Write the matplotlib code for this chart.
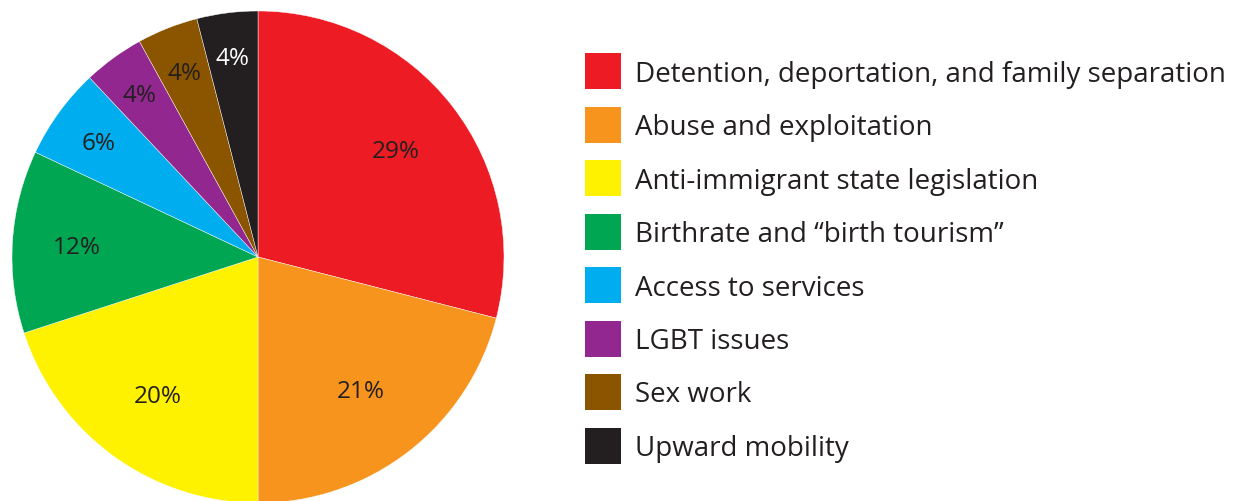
import numpy as np
import matplotlib.pyplot as plt
from matplotlib.patches import Rectangle

categories = [
    "Detention, deportation, and family separation",
    "Abuse and exploitation",
    "Anti-immigrant state legislation",
    "Birthrate and \u201cbirth tourism\u201d",
    "Access to services",
    "LGBT issues",
    "Sex work",
    "Upward mobility",
]
shares = [29, 21, 20, 12, 6, 4, 4, 4]
colors = ["#ED1C24", "#F7941D", "#FFF200", "#00A651", "#00AEEF", "#92278F", "#8B5500", "#231F20"]
label_colors = ["#231F20"] * 7 + ["white"]
label_radius = [0.71, 0.68, 0.69, 0.74, 0.80, 0.82, 0.81, 0.82]

plt.rcParams['font.family'] = ['Open Sans', 'DejaVu Sans']

W, H = 1245, 501
fig = plt.figure(figsize=(W / 100, H / 100), dpi=100)

# pie axes: center (258, 257) px, radius 246 px
cx, cy, r = 258, 257, 246
ax = fig.add_axes([(cx - r) / W, (H - cy - r) / H, 2 * r / W, 2 * r / H])
wedges, _ = ax.pie(shares, colors=colors, startangle=90, counterclock=False,
                   radius=1, wedgeprops=dict(edgecolor="white", linewidth=0.3))
ax.set_xlim(-1, 1)
ax.set_ylim(-1, 1)
ax.set_aspect("equal")
ax.axis("off")

for w, val, rr, tc in zip(wedges, shares, label_radius, label_colors):
    ang = np.deg2rad((w.theta1 + w.theta2) / 2)
    ax.text(rr * np.cos(ang), rr * np.sin(ang) - 0.01, f"{val}%", ha="center", va="center",
            fontsize=17.5, color=tc)

# legend drawn in pixel space
lax = fig.add_axes([0, 0, 1, 1])
lax.set_xlim(0, W)
lax.set_ylim(H, 0)
lax.axis("off")
for i, (lab, col) in enumerate(zip(categories, colors)):
    y0 = 53 + 53.5 * i
    lax.add_patch(Rectangle((585, y0), 36, 36, facecolor=col, edgecolor="none"))
    lax.text(635, y0 + 21.5, lab, ha="left", va="center", fontsize=20, color="#231F20")

fig.savefig("out.png", dpi=100)
